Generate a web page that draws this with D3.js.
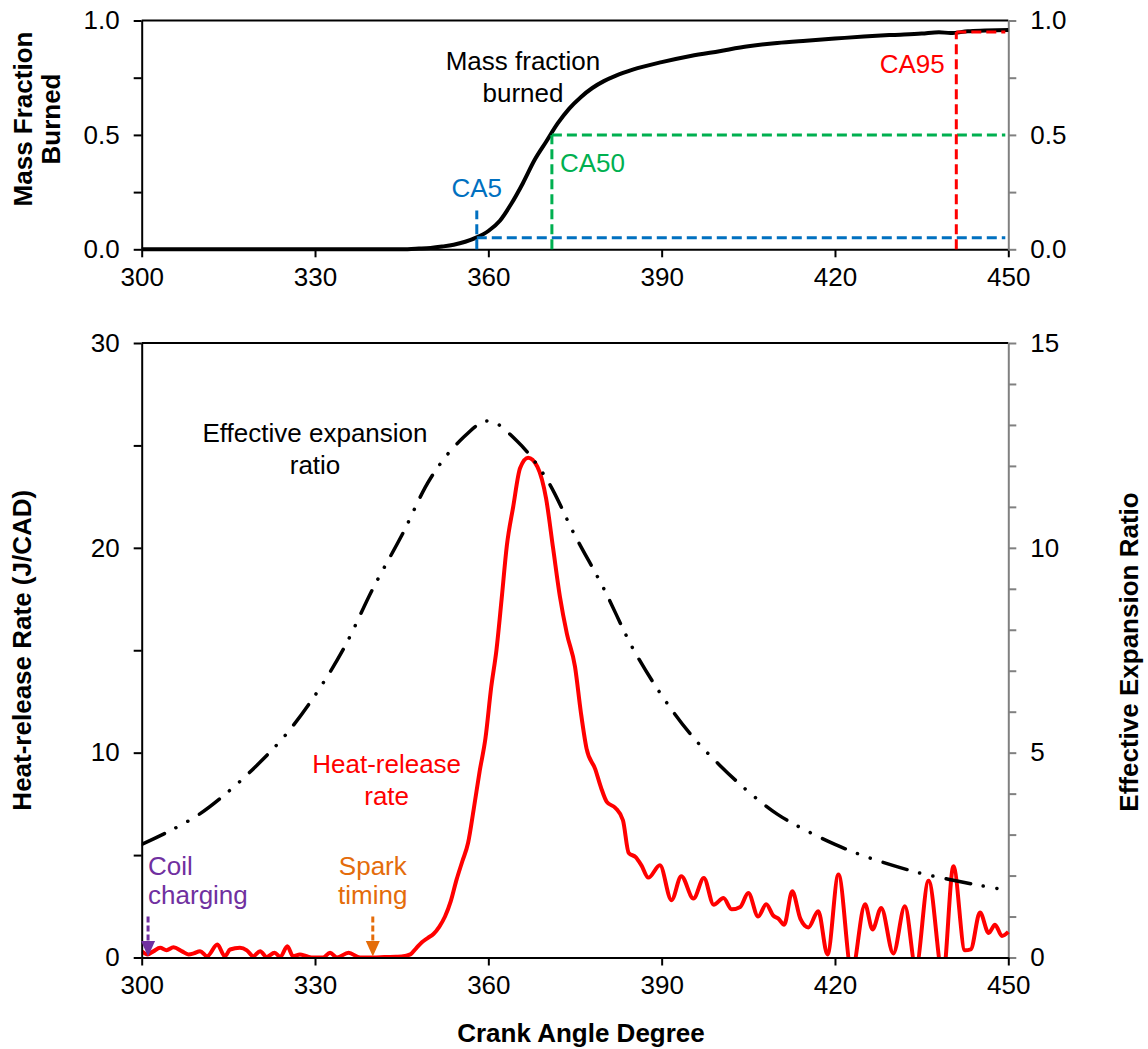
<!DOCTYPE html>
<html><head><meta charset="utf-8">
<script src="https://cdn.jsdelivr.net/npm/d3@7"></script>
<style>
body{margin:0;background:#fff;}
svg{display:block;font-family:"Liberation Sans",Arial,Helvetica,sans-serif;}
</style></head><body>
<svg id="chart" width="1148" height="1049"></svg>
<script>
// ---------- DATA ----------
const xTicks = [300, 330, 360, 390, 420, 450];

// Mass fraction burned (top panel)
const mfbAngle = [300,340,345,348,350,352,354,356,358,360,362,364,366,368,370,372,374,376,378,380,382,385,390,395,400,405,410,415,420,425,430,435,438,440,443,446,450];
const mfbValue = [0,0,0,0.003,0.006,0.012,0.02,0.033,0.052,0.08,0.125,0.2,0.29,0.39,0.47,0.55,0.615,0.665,0.705,0.735,0.758,0.785,0.818,0.845,0.866,0.887,0.902,0.912,0.921,0.93,0.937,0.943,0.949,0.945,0.953,0.956,0.959];
const mfbTicks = [0, 0.25, 0.5, 0.75, 1];
const mfbTickLabels = [0, 0.5, 1];

// Combustion phasing markers
const caNames = ["CA5", "CA50", "CA95"];
const caAngles = [358, 371, 441];
const caLevels = [0.05, 0.5, 0.95];
const caVerticalTop = [0.17, 0.5, 0.95];

// Heat-release rate (bottom panel, left axis)
const hrrAngle = [300,301,302,303.2,304.3,305.5,307,308.1,309,310.1,311.3,313.1,314.4,315.3,317,318.2,319.3,320.5,321.6,323,324,325.2,326.2,327.4,328.4,329.4,331.4,332.6,333.8,335.8,337.8,340,342,344,345,346.5,347.5,348.5,349.5,350.5,351.5,352.5,353.5,354.5,355.5,356.5,357.5,358.5,359.5,360.5,361.4,362.3,363.2,364.3,365.5,366.9,368.5,370,371.2,372.4,373.6,375,376,377,378.5,379.5,380.5,382,383.3,384.3,385.5,386.5,387.7,389.7,391.7,393.4,395.5,397.3,399,400.7,402.1,403.6,405,406.7,408.1,409.3,410.2,411.2,412.6,414,415.4,417.1,418.7,420.6,422.9,425.2,426.5,428,430.1,432.1,434,436.2,438.7,440.5,442.5,443.5,445.1,446.6,447.7,448.9,450];
const hrrValue = [0.3,0.15,0.3,0.47,0.36,0.5,0.3,0.15,0.2,0.31,0.06,0.63,0.06,0.39,0.47,0.35,0.06,0.31,0.03,0.23,0.03,0.55,0.06,0.15,0.08,0,0,0.23,0,0.23,0,0,0.02,0.04,0.05,0.15,0.45,0.75,0.95,1.15,1.5,2.0,2.75,3.8,4.7,5.6,7.3,9.1,10.7,13.2,15.0,17.5,20.1,22.0,23.9,24.4,23.95,22.4,20.0,17.6,15.8,14.2,12.0,10.2,9.2,8.3,7.6,7.3,6.7,5.1,4.9,4.5,3.9,4.5,2.8,3.97,2.88,3.88,2.58,2.9,2.35,2.47,3.15,2.0,2.6,2.05,1.9,1.6,3.23,1.9,1.47,2.26,0.15,4.05,-0.7,2.6,1.37,2.42,0.2,2.5,-0.5,3.75,-0.9,4.45,0.35,0.4,2.2,1.2,1.6,1.05,1.25];
const hrrTicks = [0, 5, 10, 15, 20, 25, 30];
const hrrTickLabels = [0, 10, 20, 30];

// Effective expansion ratio (bottom panel, right axis)
const errAngle = [300,305,310,315,320,325,330,335,340,345,350,355,360,365,370,375,380,385,390,395,400,405,410,415,420,425,430,435,440,445,450];
const errValue = [2.76,3.1,3.5,4.05,4.7,5.45,6.4,7.55,9.0,10.3,11.7,12.6,13.1,12.6,11.7,10.3,9.0,7.55,6.4,5.45,4.7,4.05,3.5,3.1,2.76,2.48,2.25,2.05,1.9,1.76,1.64];
const errTicks = [0,1,2,3,4,5,6,7,8,9,10,11,12,13,14,15];
const errTickLabels = [0, 5, 10, 15];

// Event arrows
const eventNames = [["Coil", "charging"], ["Spark", "timing"]];
const eventAngles = [301.1, 340];
const eventColors = ["#7030A0", "#E46C0A"];

// ---------- LAYOUT ----------
const FONT = 26;
const TITLE = 26;
const svg = d3.select("#chart");
const x = d3.scaleLinear().domain([300, 450]).range([141.7, 1008.3]);
const yTop = d3.scaleLinear().domain([0, 1]).range([249.3, 20.5]);
const yL = d3.scaleLinear().domain([0, 30]).range([957.5, 343]);
const yR = d3.scaleLinear().domain([0, 15]).range([957.5, 343]);

const defs = svg.append("defs");
defs.append("clipPath").attr("id", "clipBottom").append("rect")
  .attr("x", x(300)).attr("y", yL(30) - 5).attr("width", x(450) - x(300) + 4).attr("height", yL(0) - yL(30) + 6.5);

function styleAxis(g, color) {
  g.selectAll("path.domain").attr("stroke", color).attr("stroke-width", 2);
  g.selectAll(".tick line").attr("stroke", color).attr("stroke-width", 2);
  g.selectAll(".tick text").attr("fill", "#000").style("font-size", FONT + "px")
    .style("font-family", '"Liberation Sans",Arial,sans-serif');
}

// ---------- TOP PANEL ----------
const topG = svg.append("g");
topG.append("line").attr("x1", x(300)).attr("x2", x(450)).attr("y1", yTop(1)).attr("y2", yTop(1))
  .attr("stroke", "#000").attr("stroke-width", 2);

const gxTop = topG.append("g").attr("transform", `translate(0,${yTop(0)})`)
  .call(d3.axisBottom(x).tickValues(xTicks).tickSize(8).tickSizeOuter(0).tickPadding(10).tickFormat(d3.format("d")));
styleAxis(gxTop, "#000");

const fmt1 = d => mfbTickLabels.includes(d) ? d3.format(".1f")(d) : "";
const gyTopL = topG.append("g").attr("transform", `translate(${x(300)},0)`)
  .call(d3.axisLeft(yTop).tickValues(mfbTicks).tickSize(8).tickSizeOuter(0).tickPadding(14).tickFormat(fmt1));
styleAxis(gyTopL, "#000");
const gyTopR = topG.append("g").attr("transform", `translate(${x(450)},0)`)
  .call(d3.axisRight(yTop).tickValues(mfbTicks).tickSize(8).tickSizeOuter(0).tickPadding(14).tickFormat(fmt1));
styleAxis(gyTopR, "#808080");

const mfbData = d3.zip(mfbAngle, mfbValue);
topG.append("path").datum(mfbData)
  .attr("fill", "none").attr("stroke", "#000").attr("stroke-width", 4).attr("stroke-linejoin", "round")
  .attr("d", d3.line().x(d => x(d[0])).y(d => yTop(d[1])).curve(d3.curveMonotoneX));

const caColors = ["#0070C0", "#00B050", "#FF0000"];
caNames.forEach((n, i) => {
  const g = topG.append("g").attr("stroke", caColors[i]).attr("stroke-width", 3).attr("stroke-dasharray", "10,5").attr("fill", "none");
  g.append("line").attr("x1", x(caAngles[i])).attr("x2", x(caAngles[i])).attr("y1", yTop(0)).attr("y2", yTop(caVerticalTop[i]));
  g.append("line").attr("x1", x(caAngles[i])).attr("x2", x(450) - 3).attr("y1", yTop(caLevels[i])).attr("y2", yTop(caLevels[i]));
});
const caLabelPos = [[358.0, 0.229, "middle"], [372.4, 0.338, "start"], [439.0, 0.771, "end"]];
caNames.forEach((n, i) => {
  topG.append("text").attr("x", x(caLabelPos[i][0])).attr("y", yTop(caLabelPos[i][1]))
    .attr("text-anchor", caLabelPos[i][2]).attr("fill", caColors[i]).style("font-size", FONT + "px").text(n);
});
const mfbLab = topG.append("text").attr("text-anchor", "middle").style("font-size", FONT + "px").attr("fill", "#000");
mfbLab.append("tspan").attr("x", x(366)).attr("y", yTop(0.784)).text("Mass fraction");
mfbLab.append("tspan").attr("x", x(366)).attr("dy", 31.7).text("burned");

svg.append("text").attr("transform", "translate(32,119) rotate(-90)").attr("text-anchor", "middle")
  .style("font-size", TITLE + "px").style("font-weight", "bold").text("Mass Fraction");
svg.append("text").attr("transform", "translate(60,119) rotate(-90)").attr("text-anchor", "middle")
  .style("font-size", TITLE + "px").style("font-weight", "bold").text("Burned");

// ---------- BOTTOM PANEL ----------
const bot = svg.append("g");
bot.append("line").attr("x1", x(300)).attr("x2", x(450)).attr("y1", yL(30)).attr("y2", yL(30))
  .attr("stroke", "#000").attr("stroke-width", 2);

const gyBotR = bot.append("g").attr("transform", `translate(${x(450)},0)`)
  .call(d3.axisRight(yR).tickValues(errTicks).tickSize(8).tickSizeOuter(0).tickPadding(14)
    .tickFormat(d => errTickLabels.includes(d) ? d : ""));
styleAxis(gyBotR, "#808080");

const plot = bot.append("g").attr("clip-path", "url(#clipBottom)");
const hrrData = d3.zip(hrrAngle, hrrValue);
plot.append("path").datum(hrrData)
  .attr("fill", "none").attr("stroke", "#FF0000").attr("stroke-width", 4).attr("stroke-linejoin", "round")
  .attr("d", d3.line().x(d => x(d[0])).y(d => yL(d[1])).curve(d3.curveMonotoneX));
const errData = d3.zip(errAngle, errValue);
plot.append("path").datum(errData)
  .attr("fill", "none").attr("stroke", "#000").attr("stroke-width", 3.5).attr("stroke-linecap", "round")
  .attr("stroke-dasharray", "25,13,0.1,13.5,0.1,13.5")
  .attr("d", d3.line().x(d => x(d[0])).y(d => yR(d[1])).curve(d3.curveCatmullRom));

const gxBot = bot.append("g").attr("transform", `translate(0,${yL(0)})`)
  .call(d3.axisBottom(x).tickValues(xTicks).tickSize(8).tickSizeOuter(0).tickPadding(10).tickFormat(d3.format("d")));
styleAxis(gxBot, "#000");
const gyBotL = bot.append("g").attr("transform", `translate(${x(300)},0)`)
  .call(d3.axisLeft(yL).tickValues(hrrTicks).tickSize(8).tickSizeOuter(0).tickPadding(14)
    .tickFormat(d => hrrTickLabels.includes(d) ? d : ""));
styleAxis(gyBotL, "#000");

const errLab = bot.append("text").attr("text-anchor", "middle").style("font-size", FONT + "px").attr("fill", "#000");
errLab.append("tspan").attr("x", x(330)).attr("y", yR(12.58)).text("Effective expansion");
errLab.append("tspan").attr("x", x(330)).attr("dy", 31.6).text("ratio");
const hrrLab = bot.append("text").attr("text-anchor", "middle").style("font-size", FONT + "px").attr("fill", "#FF0000");
hrrLab.append("tspan").attr("x", x(342.4)).attr("y", yL(8.99)).text("Heat-release");
hrrLab.append("tspan").attr("x", x(342.4)).attr("dy", 31.7).text("rate");

const evAnchor = ["start", "middle"];
const evTextX = [301.1, 340];
eventNames.forEach((lines, i) => {
  const t = bot.append("text").attr("text-anchor", evAnchor[i]).style("font-size", FONT + "px").attr("fill", eventColors[i]);
  t.append("tspan").attr("x", x(evTextX[i])).attr("y", yL(4.02)).text(lines[0]);
  t.append("tspan").attr("x", x(evTextX[i])).attr("dy", 29).text(lines[1]);
  const ax = x(eventAngles[i]);
  bot.append("line").attr("x1", ax).attr("x2", ax).attr("y1", yL(2.0)).attr("y2", yL(0.8))
    .attr("stroke", eventColors[i]).attr("stroke-width", 3).attr("stroke-dasharray", "6,3");
  bot.append("path").attr("fill", eventColors[i])
    .attr("d", `M${ax - 7},${yL(0.8)}L${ax + 7},${yL(0.8)}L${ax},${yL(0.05)}Z`);
});

svg.append("text").attr("transform", `translate(31,${(yL(0) + yL(30)) / 2}) rotate(-90)`).attr("text-anchor", "middle")
  .style("font-size", TITLE + "px").style("font-weight", "bold").text("Heat-release Rate (J/CAD)");
svg.append("text").attr("transform", `translate(1138,652) rotate(-90)`).attr("text-anchor", "middle")
  .style("font-size", TITLE + "px").style("font-weight", "bold").text("Effective Expansion Ratio");
svg.append("text").attr("x", 581).attr("y", 1042).attr("text-anchor", "middle")
  .style("font-size", TITLE + "px").style("font-weight", "bold").text("Crank Angle Degree");
</script>
</body></html>
